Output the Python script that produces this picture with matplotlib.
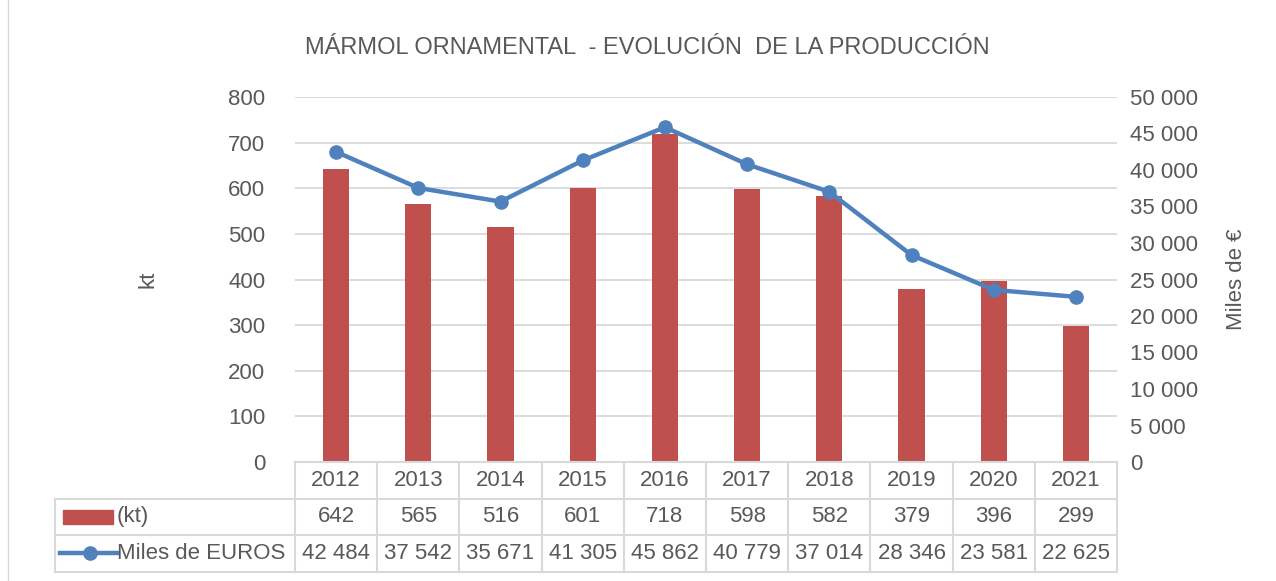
import matplotlib.pyplot as plt
import matplotlib.transforms as mtransforms
from matplotlib.patches import Rectangle
import numpy as np

years = ['2012', '2013', '2014', '2015', '2016', '2017', '2018', '2019', '2020', '2021']
kt = [642, 565, 516, 601, 718, 598, 582, 379, 396, 299]
miles_euros = [42484, 37542, 35671, 41305, 45862, 40779, 37014, 28346, 23581, 22625]
left_ticks = [0, 100, 200, 300, 400, 500, 600, 700, 800]
right_ticks = [0, 5000, 10000, 15000, 20000, 25000, 30000, 35000, 40000, 45000, 50000]

bar_color = '#c0504d'
line_color = '#4f81bd'
text_color = '#595959'
grid_color = '#d9d9d9'

plt.rcParams['font.family'] = ['Liberation Sans', 'DejaVu Sans']
fs = 16
col_px = 82.2  # width of one year column in pixels

def fmt(v):
    return '{:,}'.format(v).replace(',', ' ')

fig = plt.figure(figsize=(12.76, 5.81), dpi=100)
# chart frame
fig.patches.append(Rectangle((8 / 1276, -0.01), 1.2, 1.2, transform=fig.transFigure,
                             fill=False, edgecolor=grid_color, lw=1.0))

ax = fig.add_axes([295 / 1276, 1 - 462 / 581, (1117 - 295) / 1276, 365 / 581])
ax2 = ax.twinx()

x = np.arange(len(years))
ax.bar(x, kt, width=0.32, color=bar_color, zorder=2)
ax2.plot(x, miles_euros, color=line_color, lw=3.2, marker='o', markersize=9.5, zorder=3)

ax.set_xlim(-0.5, len(years) - 0.5)
ax.set_ylim(0, 800)
ax2.set_ylim(0, 50000)
ax.set_yticks(left_ticks)
ax2.set_yticks(right_ticks)
ax2.set_yticklabels([fmt(v) for v in right_ticks], ha='left')
ax.yaxis.grid(True, color=grid_color, lw=1.3, zorder=0)
ax.set_axisbelow(True)
ax.set_xticks([])
for a in (ax, ax2):
    for s in a.spines.values():
        s.set_visible(False)
ax.tick_params(axis='y', length=0, labelsize=fs, labelcolor=text_color, pad=21.5)
ax2.tick_params(axis='y', length=0, labelsize=fs, labelcolor=text_color, pad=9.5)

ax.set_ylabel('kt', fontsize=fs, color=text_color, labelpad=50)
ax2.set_ylabel('Miles de €', fontsize=fs, color=text_color, labelpad=20)

fig.text(647 / 1276, 1 - 48 / 581, 'MÁRMOL ORNAMENTAL  - EVOLUCIÓN  DE LA PRODUCCIÓN',
         ha='center', va='center', fontsize=17, color=text_color)

# data table under the axis
trans = mtransforms.blended_transform_factory(ax.transData, ax.transAxes)
row_h = 36.5 / 365
rows = [0, -row_h, -2 * row_h, -3 * row_h]
def px(p):
    # figure pixel x -> data x
    return -0.5 + (p - 295) / col_px
legend_left = px(55)
n = len(years)
line_kw = dict(color=grid_color, lw=1.5, transform=trans, clip_on=False)
# horizontal lines
ax.plot([-0.5, n - 0.5], [rows[0]] * 2, **line_kw)
for r in rows[1:]:
    ax.plot([legend_left, n - 0.5], [r] * 2, **line_kw)
# vertical lines
for i in range(n + 1):
    ax.plot([i - 0.5] * 2, [rows[0], rows[3]], **line_kw)
ax.plot([legend_left] * 2, [rows[1], rows[3]], **line_kw)

for i in range(n):
    ax.text(i, (rows[0] + rows[1]) / 2, years[i], transform=trans, ha='center', va='center',
            fontsize=fs, color=text_color)
    ax.text(i, (rows[1] + rows[2]) / 2, str(kt[i]), transform=trans, ha='center', va='center',
            fontsize=fs, color=text_color)
    ax.text(i, (rows[2] + rows[3]) / 2, fmt(miles_euros[i]), transform=trans, ha='center',
            va='center', fontsize=fs, color=text_color)

# legend keys in the table
y1 = (rows[1] + rows[2]) / 2
y2 = (rows[2] + rows[3]) / 2
ax.add_patch(Rectangle((px(63), y1 - 0.019), px(113) - px(63), 0.038, transform=trans,
                       color=bar_color, clip_on=False))
ax.plot([px(60), px(118)], [y2, y2], color=line_color, lw=3.2,
        transform=trans, clip_on=False)
ax.plot([px(90)], [y2], 'o', color=line_color, markersize=9.5, transform=trans,
        clip_on=False)
ax.text(px(117), y1, '(kt)', transform=trans, ha='left', va='center',
        fontsize=fs, color=text_color)
ax.text(px(117), y2, 'Miles de EUROS', transform=trans, ha='left', va='center',
        fontsize=fs, color=text_color)

plt.savefig('out.png', dpi=100)
